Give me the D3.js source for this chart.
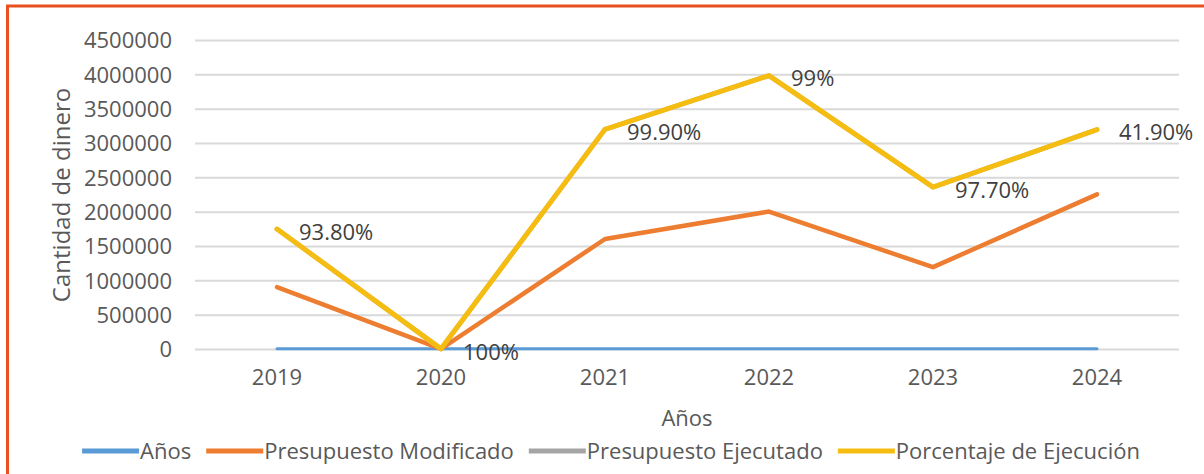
<!DOCTYPE html>
<html>
<head>
<meta charset="utf-8">
<script src="https://cdn.jsdelivr.net/npm/d3@7/dist/d3.min.js"></script>
<style>
  html, body { margin: 0; padding: 0; background: #ffffff; }
  svg { display: block; }
  text { font-family: "Open Sans", "Noto Sans", sans-serif; }
</style>
</head>
<body>
<svg id="chart" width="1204" height="474"></svg>
<script>
// ---- data ----
const years = ["2019", "2020", "2021", "2022", "2023", "2024"];
const anos = [2019, 2020, 2021, 2022, 2023, 2024];
const presupuestoModificado = [900000, 0, 1600000, 2000000, 1190000, 2250000];
const presupuestoEjecutado = [845000, 0, 1598000, 1980000, 1165000, 943000];
const porcentajeEjecucion = [0.938, 1, 0.999, 0.99, 0.977, 0.419];
const porcentajeLabels = ["93.80%", "100%", "99.90%", "99%", "97.70%", "41.90%"];
const yTicks = [0, 500000, 1000000, 1500000, 2000000, 2500000, 3000000, 3500000, 4000000, 4500000];
const seriesNames = ["Años", "Presupuesto Modificado", "Presupuesto Ejecutado", "Porcentaje de Ejecución"];
const seriesColors = ["#5b9bd5", "#ed7d31", "#a5a5a5", "#f5bd12"];

// ---- setup ----
const svg = d3.select("#chart");
const W = 1204, H = 474;
const plot = { left: 195, right: 1179, top: 40, bottom: 349 };

// border
svg.append("rect").attr("x", 7.5).attr("y", 6).attr("width", W + 20).attr("height", H + 20)
  .attr("fill", "none").attr("stroke", "#e8501f").attr("stroke-width", 3);

const x = d3.scaleBand().domain(years).range([plot.left, plot.right]);
const y = d3.scaleLinear().domain([0, 4500000]).range([plot.bottom, plot.top]);

// stacked table
const table = years.map((yr, i) => ({
  year: yr,
  s0: anos[i],
  s1: presupuestoModificado[i],
  s2: presupuestoEjecutado[i],
  s3: porcentajeEjecucion[i]
}));
const stack = d3.stack().keys(["s0", "s1", "s2", "s3"]);
const stacked = stack(table);

// gridlines
const yAxis = d3.axisLeft(y).tickValues(yTicks).tickFormat(d3.format("d"))
  .tickSize(-(plot.right - plot.left)).tickPadding(23);
const gy = svg.append("g").attr("transform", `translate(${plot.left},0)`).call(yAxis);
gy.select(".domain").remove();
gy.selectAll(".tick line").attr("stroke", "#d9d9d9").attr("stroke-width", 2);
gy.selectAll(".tick text").attr("fill", "#595959").style("font-size", "22px")
  .attr("font-family", null).attr("dy", "0.35em");

// x axis labels
const xAxis = d3.axisBottom(x).tickSize(0).tickPadding(20);
const gx = svg.append("g").attr("transform", `translate(0,${plot.bottom})`).call(xAxis);
gx.select(".domain").remove();
gx.selectAll(".tick text").attr("fill", "#595959").style("font-size", "22px")
  .attr("font-family", null);

// lines
const line = d3.line()
  .x((d, i) => x(years[i]) + x.bandwidth() / 2)
  .y(d => y(d[1]));
const widths = [3, 4.5, 4.5, 5];
[0, 1, 2, 3].forEach(k => {
  svg.append("path").datum(stacked[k])
    .attr("fill", "none")
    .attr("stroke", seriesColors[k])
    .attr("stroke-width", widths[k])
    .attr("stroke-linejoin", "round")
    .attr("stroke-linecap", "round")
    .attr("d", line);
});

// data labels on top series
svg.append("g").selectAll("text").data(stacked[3]).enter().append("text")
  .attr("x", (d, i) => x(years[i]) + x.bandwidth() / 2 + 22)
  .attr("y", d => y(d[1]) + 3)
  .attr("dy", "0.35em")
  .attr("fill", "#404040")
  .style("font-size", "22px")
  .text((d, i) => porcentajeLabels[i]);

// axis titles
svg.append("text")
  .attr("transform", `translate(62,195) rotate(-90)`)
  .attr("text-anchor", "middle")
  .attr("dy", "0.35em")
  .attr("fill", "#595959")
  .style("font-size", "24px")
  .text("Cantidad de dinero");

svg.append("text")
  .attr("x", (plot.left + plot.right) / 2)
  .attr("y", 418)
  .attr("dy", "0.35em")
  .attr("text-anchor", "middle")
  .attr("fill", "#595959")
  .style("font-size", "22px")
  .text("Años");

// legend
const legend = svg.append("g");
const swatch = 57, gap = 15;
let cx = 0;
seriesNames.forEach((name, k) => {
  const g = legend.append("g").attr("transform", `translate(${cx},0)`);
  g.append("line").attr("x1", 0).attr("x2", swatch).attr("y1", 0).attr("y2", 0)
    .attr("stroke", seriesColors[k]).attr("stroke-width", 5);
  const t = g.append("text").attr("x", swatch + 1).attr("y", 0).attr("dy", "0.35em")
    .attr("fill", "#595959").style("font-size", "22px").text(name);
  cx += swatch + 1 + t.node().getComputedTextLength() + gap;
});
const totalW = cx - gap;
legend.attr("transform", `translate(${611 - totalW / 2},451)`);
</script>
</body>
</html>
